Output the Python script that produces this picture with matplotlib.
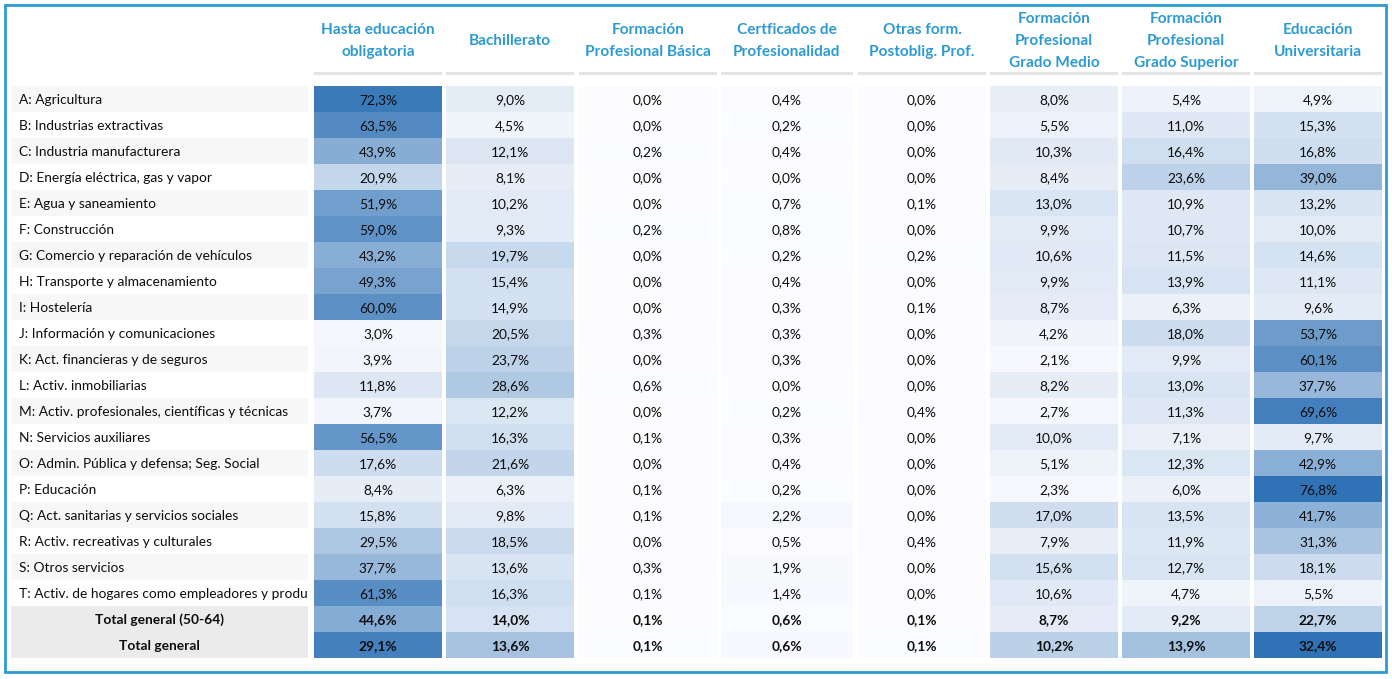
import matplotlib
matplotlib.use('Agg')
import matplotlib.pyplot as plt
from matplotlib.patches import Rectangle
from matplotlib.transforms import Bbox, TransformedBbox
import numpy as np

plt.rcParams['font.family'] = ['Lato', 'DejaVu Sans']

# ---- data (percent) ----
sectores = ['A: Agricultura', 'B: Industrias extractivas', 'C: Industria manufacturera',
            'D: Energía eléctrica, gas y vapor', 'E: Agua y saneamiento', 'F: Construcción',
            'G: Comercio y reparación de vehículos', 'H: Transporte y almacenamiento',
            'I: Hostelería', 'J: Información y comunicaciones', 'K: Act. financieras y de seguros',
            'L: Activ. inmobiliarias', 'M: Activ. profesionales, científicas y técnicas',
            'N: Servicios auxiliares', 'O: Admin. Pública y defensa; Seg. Social', 'P: Educación',
            'Q: Act. sanitarias y servicios sociales', 'R: Activ. recreativas y culturales',
            'S: Otros servicios', 'T: Activ. de hogares como empleadores y productores',
            'Total general (50-64)', 'Total general']

columnas = ['Hasta educación\nobligatoria', 'Bachillerato', 'Formación\nProfesional Básica',
            'Certficados de\nProfesionalidad', 'Otras form.\nPostoblig. Prof.',
            'Formación\nProfesional\nGrado Medio', 'Formación\nProfesional\nGrado Superior',
            'Educación\nUniversitaria']

hasta_oblig = [72.3, 63.5, 43.9, 20.9, 51.9, 59.0, 43.2, 49.3, 60.0, 3.0, 3.9, 11.8, 3.7,
               56.5, 17.6, 8.4, 15.8, 29.5, 37.7, 61.3, 44.6, 29.1]
bachillerato = [9.0, 4.5, 12.1, 8.1, 10.2, 9.3, 19.7, 15.4, 14.9, 20.5, 23.7, 28.6, 12.2,
                16.3, 21.6, 6.3, 9.8, 18.5, 13.6, 16.3, 14.0, 13.6]
fp_basica = [0.0, 0.0, 0.2, 0.0, 0.0, 0.2, 0.0, 0.0, 0.0, 0.3, 0.0, 0.6, 0.0,
             0.1, 0.0, 0.1, 0.1, 0.0, 0.3, 0.1, 0.1, 0.1]
certificados = [0.4, 0.2, 0.4, 0.0, 0.7, 0.8, 0.2, 0.4, 0.3, 0.3, 0.3, 0.0, 0.2,
                0.3, 0.4, 0.2, 2.2, 0.5, 1.9, 1.4, 0.6, 0.6]
otras_form = [0.0, 0.0, 0.0, 0.0, 0.1, 0.0, 0.2, 0.0, 0.1, 0.0, 0.0, 0.0, 0.4,
              0.0, 0.0, 0.0, 0.0, 0.4, 0.0, 0.0, 0.1, 0.1]
fp_medio = [8.0, 5.5, 10.3, 8.4, 13.0, 9.9, 10.6, 9.9, 8.7, 4.2, 2.1, 8.2, 2.7,
            10.0, 5.1, 2.3, 17.0, 7.9, 15.6, 10.6, 8.7, 10.2]
fp_superior = [5.4, 11.0, 16.4, 23.6, 10.9, 10.7, 11.5, 13.9, 6.3, 18.0, 9.9, 13.0, 11.3,
               7.1, 12.3, 6.0, 13.5, 11.9, 12.7, 4.7, 9.2, 13.9]
universitaria = [4.9, 15.3, 16.8, 39.0, 13.2, 10.0, 14.6, 11.1, 9.6, 53.7, 60.1, 37.7, 69.6,
                 9.7, 42.9, 76.8, 41.7, 31.3, 18.1, 5.5, 22.7, 32.4]

valores = np.array([hasta_oblig, bachillerato, fp_basica, certificados, otras_form,
                    fp_medio, fp_superior, universitaria]).T

# ---- layout (pixels) ----
W, H = 1392, 679
col_x = [314, 446, 579, 721, 858, 990, 1122, 1254]
col_w = [128, 128, 138, 132, 128, 128, 128, 128]
lab_x0, lab_x1 = 11, 308
row_top = 86
row_h = 26
hdr_mid = 41
hdr_step = 22

c_min = np.array([252, 252, 255]) / 255
c_max = np.array([47, 114, 181]) / 255
azul = '#2E9AD3'
txt = '#0D0D0D'


def color_escala(v, vmax):
    t = min(max(v / vmax, 0), 1)
    return tuple(c_min + (c_max - c_min) * t)


fig = plt.figure(figsize=(W / 100, H / 100), dpi=100)
ax = fig.add_axes([0, 0, 1, 1])
ax.set_xlim(0, W)
ax.set_ylim(H, 0)
ax.axis('off')

# outer frame
ax.add_patch(Rectangle((5, 5), 1381, 667, fill=False, edgecolor=azul, linewidth=2))

# headers
for j, col in enumerate(columnas):
    lines = col.split('\n')
    cx = col_x[j] + col_w[j] / 2
    y0 = hdr_mid - hdr_step * (len(lines) - 1) / 2
    for k, ln in enumerate(lines):
        ax.text(cx, y0 + k * hdr_step, ln, ha='center', va='center', fontsize=11.1,
                fontweight='bold', color=azul)
    ax.add_patch(Rectangle((col_x[j], 71.5), col_w[j], 3.5, facecolor='#E4E4E4',
                           edgecolor='none'))

vmax_global = valores[:-1].max()
n = len(sectores)
for i, sec in enumerate(sectores):
    y = row_top + i * row_h
    yc = y + row_h / 2 + 1
    total = sec.startswith('Total')
    if total:
        bg = '#EBEBEB'
    else:
        bg = '#F7F7F7' if i % 2 == 0 else 'white'
    ax.add_patch(Rectangle((lab_x0, y), lab_x1 - lab_x0, row_h, facecolor=bg,
                           edgecolor='none'))
    if total:
        ax.text((lab_x0 + lab_x1) / 2, yc, sec, ha='center', va='center',
                fontsize=9.9, fontweight='bold', color=txt)
    else:
        t = ax.text(19, yc, sec, ha='left', va='center', fontsize=9.9, color=txt,
                    clip_on=True)
        t.set_clip_box(TransformedBbox(Bbox([[lab_x0, y], [lab_x1, y + row_h]]),
                                       ax.transData))

    # last row ("Total general") uses its own colour scale
    vmax = valores[i].max() if i == n - 1 else vmax_global
    for j in range(len(columnas)):
        v = valores[i, j]
        ax.add_patch(Rectangle((col_x[j], y), col_w[j], row_h,
                               facecolor=color_escala(v, vmax), edgecolor='none'))
        ax.text(col_x[j] + col_w[j] / 2, yc, f'{v:.1f}%'.replace('.', ','),
                ha='center', va='center', fontsize=9.9, color=txt,
                fontweight='bold' if total else 'normal')

fig.savefig('out.png', dpi=100)
